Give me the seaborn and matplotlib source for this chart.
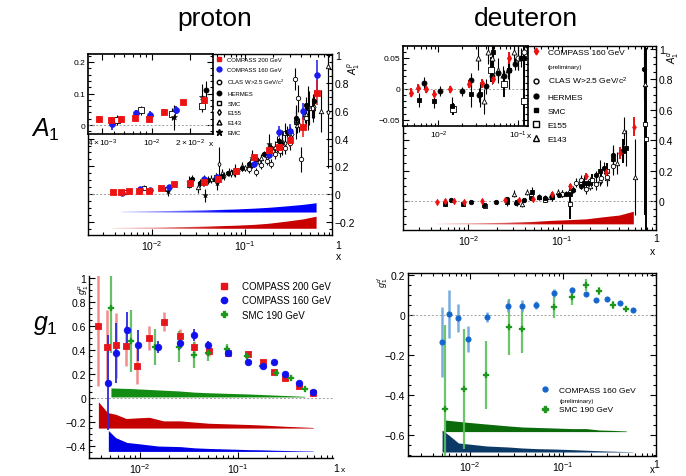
import numpy as np
import matplotlib
matplotlib.use("Agg")
import matplotlib.pyplot as plt
import seaborn as sns
from matplotlib.lines import Line2D
from matplotlib.colors import to_rgb
import matplotlib.ticker as mticker

# ---------------- data: proton A1 ----------------
c200_x = [0.0038, 0.0047, 0.0057, 0.0073, 0.0094, 0.0125, 0.0175, 0.026, 0.036, 0.051, 0.080, 0.126, 0.180, 0.234, 0.300, 0.420, 0.585]
c200_A1p = [0.018, 0.015, 0.019, 0.024, 0.019, 0.042, 0.072, 0.078, 0.085, 0.108, 0.163, 0.264, 0.319, 0.336, 0.388, 0.484, 0.731]
c200_A1p_err = [0.012, 0.012, 0.011, 0.010, 0.010, 0.008, 0.008, 0.009, 0.010, 0.012, 0.015, 0.020, 0.03, 0.04, 0.05, 0.07, 0.09]
c200_A1p_sys = [0.006, 0.007, 0.007, 0.008, 0.008, 0.009, 0.011, 0.013, 0.015, 0.018, 0.022, 0.028, 0.036, 0.045, 0.054, 0.067, 0.087]

c160_x = [0.0048, 0.0074, 0.0096, 0.0154, 0.036, 0.050, 0.080, 0.126, 0.180, 0.234, 0.300, 0.420, 0.585]
c160_A1p = [0.005, 0.037, 0.032, 0.048, 0.108, 0.124, 0.168, 0.216, 0.283, 0.450, 0.452, 0.597, 0.856]
c160_A1p_err = [0.02, 0.012, 0.012, 0.012, 0.015, 0.015, 0.02, 0.025, 0.03, 0.04, 0.05, 0.06, 0.11]
c160_A1p_sys = [0.008, 0.009, 0.010, 0.011, 0.015, 0.018, 0.022, 0.028, 0.034, 0.040, 0.046, 0.055, 0.067]

clas_p_x = [0.11, 0.13, 0.15, 0.17, 0.19, 0.21, 0.24, 0.27, 0.30, 0.34, 0.37, 0.40, 0.45, 0.52]
clas_p_A1 = [0.18, 0.16, 0.21, 0.24, 0.22, 0.29, 0.31, 0.33, 0.37, 0.83, 0.69, 0.25, 0.55, 0.62]
clas_p_err = [0.03, 0.03, 0.03, 0.03, 0.03, 0.04, 0.04, 0.04, 0.05, 0.08, 0.10, 0.09, 0.06, 0.07]

hermes_p_x = [0.027, 0.033, 0.040, 0.048, 0.056, 0.066, 0.077, 0.092, 0.11, 0.13, 0.16, 0.19, 0.23, 0.28, 0.35, 0.45, 0.55]
hermes_p_A1 = [0.11, 0.08, 0.10, 0.11, 0.13, 0.15, 0.16, 0.19, 0.22, 0.25, 0.29, 0.33, 0.38, 0.45, 0.55, 0.64, 0.67]
hermes_p_err = [0.03, 0.03, 0.03, 0.02, 0.02, 0.02, 0.02, 0.02, 0.02, 0.02, 0.02, 0.03, 0.03, 0.04, 0.05, 0.06, 0.08]

smc_p_x = [0.0053, 0.0082, 0.0144, 0.025, 0.035, 0.049, 0.077, 0.12, 0.17, 0.22, 0.27, 0.35, 0.48]
smc_p_A1 = [0.017, 0.047, 0.035, 0.062, 0.09, 0.12, 0.16, 0.24, 0.28, 0.36, 0.44, 0.52, 0.62]
smc_p_err = [0.015, 0.015, 0.02, 0.02, 0.03, 0.03, 0.03, 0.04, 0.05, 0.06, 0.07, 0.09, 0.12]

e155_p_x = [0.052, 0.06, 0.07, 0.085, 0.10, 0.12, 0.14, 0.17, 0.20, 0.23, 0.27, 0.32, 0.38, 0.45, 0.55, 0.77]
e155_p_A1 = [0.22, 0.13, 0.15, 0.17, 0.19, 0.21, 0.23, 0.27, 0.31, 0.34, 0.37, 0.43, 0.50, 0.57, 0.63, 0.59]
e155_p_err = [0.12, 0.03, 0.03, 0.02, 0.02, 0.02, 0.02, 0.02, 0.03, 0.03, 0.03, 0.04, 0.05, 0.06, 0.08, 0.40]

e143_p_x = [0.031, 0.036, 0.043, 0.049, 0.057, 0.067, 0.079, 0.093, 0.11, 0.13, 0.15, 0.18, 0.21, 0.25, 0.30, 0.36, 0.44, 0.53, 0.66, 0.77]
e143_p_A1 = [0.05, 0.10, 0.11, 0.12, 0.15, 0.16, 0.17, 0.20, 0.21, 0.24, 0.26, 0.30, 0.34, 0.38, 0.44, 0.50, 0.58, 0.62, 0.60, 0.92]
e143_p_err = [0.04, 0.04, 0.03, 0.03, 0.03, 0.03, 0.03, 0.03, 0.03, 0.03, 0.03, 0.03, 0.04, 0.04, 0.05, 0.06, 0.07, 0.10, 0.15, 0.30]

emc_p_x = [0.015, 0.025, 0.037, 0.05, 0.078, 0.12, 0.18, 0.25, 0.35, 0.47]
emc_p_A1 = [0.025, 0.09, -0.01, 0.08, 0.17, 0.26, 0.36, 0.37, 0.52, 0.62]
emc_p_err = [0.04, 0.04, 0.05, 0.05, 0.05, 0.06, 0.07, 0.09, 0.12, 0.16]

# ---------------- data: deuteron A1 ----------------
c160d_x = [0.0046, 0.0056, 0.0070, 0.0089, 0.014, 0.0245, 0.035, 0.049, 0.077, 0.122, 0.18, 0.29, 0.41, 0.58]
c160d_A1 = [-0.006, 0.001, -0.001, -0.008, -0.001, 0.008, 0.009, 0.016, 0.05, 0.097, 0.162, 0.189, 0.316, 0.49]
c160d_A1_err = [0.008, 0.007, 0.006, 0.006, 0.005, 0.006, 0.007, 0.008, 0.010, 0.015, 0.02, 0.03, 0.04, 0.06]
c160d_A1_sys = [0.005, 0.006, 0.007, 0.007, 0.008, 0.010, 0.013, 0.016, 0.023, 0.028, 0.033, 0.048, 0.058, 0.083]

hermes_d_x = [0.0066, 0.0106, 0.0195, 0.0256, 0.032, 0.039, 0.047, 0.056, 0.066, 0.077, 0.092, 0.11, 0.13, 0.16, 0.19, 0.23, 0.28, 0.35, 0.45, 0.75]
hermes_d_A1 = [0.009, -0.003, -0.004, 0.014, -0.01, 0.004, 0.02, 0.025, 0.02, 0.03, 0.04, 0.05, 0.07, 0.10, 0.12, 0.17, 0.22, 0.30, 0.33, 0.87]
hermes_d_err = [0.01, 0.008, 0.007, 0.012, 0.012, 0.012, 0.012, 0.01, 0.01, 0.01, 0.01, 0.015, 0.015, 0.02, 0.02, 0.03, 0.04, 0.05, 0.06, 0.2]

smc_d_x = [0.0057, 0.0087, 0.0148, 0.0256, 0.033, 0.048, 0.077, 0.12, 0.17, 0.25, 0.35, 0.48]
smc_d_A1 = [-0.018, -0.019, -0.027, -0.009, -0.009, 0.06, 0.03, 0.05, 0.12, 0.20, 0.28, 0.35]
smc_d_err = [0.012, 0.012, 0.013, 0.02, 0.02, 0.03, 0.03, 0.04, 0.05, 0.07, 0.09, 0.12]

e155_d_x = [0.0152, 0.046, 0.066, 0.12, 0.16, 0.21, 0.30, 0.45, 0.76, 0.78]
e155_d_A1 = [-0.033, 0.031, 0.007, -0.02, 0.11, 0.14, 0.20, 0.33, 0.51, 0.41]
e155_d_err = [0.01, 0.02, 0.02, 0.10, 0.03, 0.04, 0.05, 0.08, 0.6, 0.6]

e143_d_x = [0.031, 0.037, 0.042, 0.047, 0.056, 0.065, 0.075, 0.09, 0.10, 0.13, 0.16, 0.20, 0.25, 0.30, 0.38, 0.46, 0.60, 0.77]
e143_d_A1 = [0.05, -0.02, 0.06, 0.05, 0.03, 0.022, 0.03, 0.06, 0.05, 0.08, 0.11, 0.10, 0.14, 0.15, 0.25, 0.46, 0.16, 0.77]
e143_d_err = [0.02, 0.02, 0.02, 0.02, 0.02, 0.015, 0.015, 0.02, 0.02, 0.02, 0.03, 0.03, 0.04, 0.05, 0.07, 0.09, 0.25, 0.3]

clas_d_x = [0.10, 0.12, 0.14, 0.16, 0.18, 0.20, 0.23, 0.26, 0.30, 0.35]
clas_d_A1 = [0.05, 0.06, 0.12, 0.14, 0.08, 0.13, 0.11, 0.15, 0.16, 0.23]
clas_d_err = [0.02, 0.02, 0.03, 0.03, 0.03, 0.03, 0.04, 0.04, 0.05, 0.06]

# ---------------- data: proton g1 ----------------
c200_g1p = [0.60, 0.43, 0.44, 0.435, 0.27, 0.505, 0.64, 0.52, 0.43, 0.39, 0.38, 0.37, 0.30, 0.22, 0.17, 0.10, 0.045]
c200_g1p_err = [0.5, 0.31, 0.27, 0.17, 0.15, 0.10, 0.08, 0.06, 0.05, 0.04, 0.03, 0.025, 0.02, 0.015, 0.012, 0.01, 0.008]
c200_g1p_sys = [0.22, 0.13, 0.115, 0.08, 0.085, 0.09, 0.06, 0.06, 0.05, 0.04, 0.035, 0.03, 0.025, 0.02, 0.015, 0.01, 0.005]

c160_g1_x = [0.0048, 0.0057, 0.0074, 0.0096, 0.0154, 0.026, 0.036, 0.050, 0.080, 0.126, 0.180, 0.234, 0.300, 0.420, 0.585]
c160_g1p = [0.13, 0.38, 0.57, 0.44, 0.43, 0.46, 0.53, 0.44, 0.38, 0.30, 0.27, 0.30, 0.20, 0.125, 0.053]
c160_g1p_err = [0.40, 0.25, 0.15, 0.13, 0.05, 0.05, 0.05, 0.04, 0.03, 0.02, 0.02, 0.015, 0.012, 0.01, 0.01]
c160_g1p_sys = [0.175, 0.115, 0.075, 0.065, 0.045, 0.04, 0.03, 0.025, 0.02, 0.015, 0.013, 0.01, 0.008, 0.005, 0.003]

smc_g1_x = [0.0051, 0.0081, 0.0142, 0.025, 0.036, 0.05, 0.078, 0.125, 0.175, 0.245, 0.345, 0.48]
smc_g1p = [0.75, 0.48, 0.43, 0.43, 0.36, 0.38, 0.41, 0.35, 0.27, 0.21, 0.17, 0.075]
smc_g1p_err = [0.37, 0.26, 0.15, 0.13, 0.11, 0.07, 0.04, 0.03, 0.025, 0.02, 0.015, 0.01]
smc_g1p_sys = [0.075, 0.07, 0.06, 0.05, 0.04, 0.035, 0.03, 0.025, 0.02, 0.015, 0.01, 0.005]

# ---------------- data: deuteron g1 ----------------
c160d_g1_x = [0.0050, 0.0059, 0.0075, 0.0096, 0.0151, 0.0258, 0.0365, 0.051, 0.079, 0.124, 0.177, 0.226, 0.295, 0.41, 0.57]
c160d_g1 = [-0.137, 0.005, -0.015, -0.12, -0.008, 0.043, 0.043, 0.052, 0.112, 0.127, 0.105, 0.075, 0.08, 0.06, 0.027]
c160d_g1_err = [0.175, 0.12, 0.07, 0.065, 0.025, 0.03, 0.03, 0.02, 0.02, 0.015, 0.012, 0.01, 0.01, 0.007, 0.005]
c160d_g1_sys = [0.11, 0.085, 0.045, 0.04, 0.03, 0.025, 0.02, 0.017, 0.015, 0.012, 0.009, 0.007, 0.005, 0.003, 0.001]

smc_d_g1_x = [0.0054, 0.0086, 0.0149, 0.0263, 0.0365, 0.080, 0.124, 0.177, 0.245, 0.346, 0.48]
smc_d_g1 = [-0.47, -0.37, -0.30, -0.062, -0.07, 0.042, 0.092, 0.152, 0.122, 0.05, 0.03]
smc_d_g1_err = [0.42, 0.30, 0.17, 0.14, 0.12, 0.055, 0.04, 0.03, 0.02, 0.02, 0.01]
smc_d_g1_sys = [0.058, 0.048, 0.038, 0.028, 0.023, 0.018, 0.015, 0.015, 0.008, 0.006, 0.003]

# ---------------- styling helpers ----------------
sns.set_theme(style="ticks")
plt.rcParams['font.family'] = ['Liberation Sans', 'DejaVu Sans']
plt.rcParams['mathtext.fontset'] = 'custom'
plt.rcParams['mathtext.rm'] = 'Liberation Sans'
plt.rcParams['mathtext.it'] = 'Liberation Sans:italic'
plt.rcParams['axes.unicode_minus'] = True
for k in ['text.color', 'axes.labelcolor', 'xtick.color', 'ytick.color', 'axes.edgecolor']:
    plt.rcParams[k] = 'black'

W, H = 686, 477
fig = plt.figure(figsize=(W / 100, H / 100), dpi=100)


def ax_px(l, t, r, b, z=1):
    a = fig.add_axes([l / W, 1 - b / H, (r - l) / W, (b - t) / H])
    a.set_zorder(z)
    return a


def numfmt(v, pos=None):
    if abs(v) < 1e-9:
        return '0'
    return ('%g' % round(v, 3)).replace('-', '\u2212')


def style(ax, xlim, ylim, labelsize=7.5, right_labels=False, lw=1.0):
    ax.set_xscale('log')
    ax.set_xlim(*xlim)
    ax.set_ylim(*ylim)
    ax.set_xlabel('')
    ax.set_ylabel('')
    ax.xaxis.set_minor_locator(mticker.LogLocator(base=10, subs=np.arange(2, 10)))
    ax.xaxis.set_minor_formatter(mticker.NullFormatter())
    ax.yaxis.set_major_formatter(mticker.FuncFormatter(numfmt))
    ax.tick_params(which='both', direction='in', labelsize=labelsize, top=True, right=True,
                   pad=2, width=0.8, colors='black')
    ax.tick_params(which='major', length=4)
    ax.tick_params(which='minor', length=2)
    if right_labels:
        ax.tick_params(axis='y', labelleft=False, labelright=True)
    for s in ax.spines.values():
        s.set_linewidth(lw)
        s.set_color('black')
    ax.set_facecolor('white')


def pts(ax, x, y, e, marker, fc, ec='black', s=12, ecol=None, elw=0.8, lw=0.6, ealpha=1.0, z=3):
    ax.errorbar(x, y, yerr=e, fmt='none', ecolor=ecol or ec, elinewidth=elw, capsize=0,
                alpha=ealpha, zorder=z)
    sns.scatterplot(x=x, y=y, ax=ax, marker=marker, s=s, color=fc, edgecolor=ec,
                    linewidth=lw, zorder=z + 0.5, legend=False)


def band(ax, x, base, height, color, xlim, light=None, ramp=0.55, top=True):
    x = np.asarray(x, float)
    h = np.asarray(height, float)
    hi = base + h if top else base
    lo = base if top else base - h
    poly = ax.fill_between(x, lo, hi, color=color, lw=0, zorder=2)
    if light is None:
        return
    path = poly.get_paths()[0]
    poly.remove()
    lx0, lx1 = np.log10(xlim)
    f0 = (np.log10(x[0]) - lx0) / (lx1 - lx0)
    f1 = (np.log10(x[-1]) - lx0) / (lx1 - lx0)
    cols = np.linspace(0, 1, 600)
    t = np.clip((cols - f0) / ((f1 - f0) * ramp), 0, 1)
    a = light + (1 - light) * t
    rgb = np.array(to_rgb(color))
    img = (1 - a)[:, None] * np.ones(3) + a[:, None] * rgb
    ax.set_autoscale_on(False)
    im = ax.imshow(img[None, :, :], extent=[0, 1, 0, 1], transform=ax.transAxes,
                   aspect='auto', zorder=2, interpolation='bilinear')
    im.set_clip_path(path, ax.transData)


def zero_line(ax):
    ax.axhline(0, color='#a0a0a0', ls=(0, (2, 2)), lw=0.7, zorder=1)


def decade_ticks(ax):
    ax.set_xticks([0.01, 0.1])
    ax.set_xticklabels([r'$10^{-2}$', r'$10^{-1}$'])


RED = '#ee1111'
BLUE = '#1a1aee'


def proton_black(ax, s=10):
    pts(ax, e143_p_x, e143_p_A1, e143_p_err, '^', 'white', s=s)
    pts(ax, e155_p_x, e155_p_A1, e155_p_err, 'd', 'white', s=s * 0.7)
    pts(ax, clas_p_x, clas_p_A1, clas_p_err, 'o', 'white', s=s)
    pts(ax, smc_p_x, smc_p_A1, smc_p_err, 's', 'white', s=s)
    pts(ax, hermes_p_x, hermes_p_A1, hermes_p_err, 'o', 'black', s=s)
    pts(ax, emc_p_x, emc_p_A1, emc_p_err, '*', 'black', s=s * 1.6, lw=0.3)


def deuteron_black(ax, s=10):
    pts(ax, e143_d_x, e143_d_A1, e143_d_err, '^', 'white', s=s)
    pts(ax, clas_d_x, clas_d_A1, clas_d_err, 'o', 'white', s=s)
    pts(ax, e155_d_x, e155_d_A1, e155_d_err, 's', 'white', s=s * 1.2, elw=1.4)
    pts(ax, smc_d_x, smc_d_A1, smc_d_err, 's', 'black', s=s * 0.7)
    pts(ax, hermes_d_x, hermes_d_A1, hermes_d_err, 'o', 'black', s=s)


# ================= Panel 1 : proton A1 =================
xl1 = (0.00207, 0.856)
ax1 = ax_px(88, 55, 332, 236)
zero_line(ax1)
band(ax1, c160_x, -0.133, c160_A1p_sys, '#0000ff', xl1, light=0.12)
band(ax1, c200_x, -0.25, c200_A1p_sys, '#c80000', xl1, light=0.10)
proton_black(ax1)
pts(ax1, c160_x, c160_A1p, c160_A1p_err, 'o', BLUE, ec=BLUE, s=16, elw=1.1)
pts(ax1, c200_x, c200_A1p, c200_A1p_err, 's', RED, ec=RED, s=16, elw=1.1)
style(ax1, xl1, (-0.295, 1.01), right_labels=True)
ax1.set_yticks([-0.2, 0, 0.2, 0.4, 0.6, 0.8, 1.0])
ax1.yaxis.set_minor_locator(mticker.MultipleLocator(0.05))
decade_ticks(ax1)
ax1.text(1.0, -0.03, '1', transform=ax1.get_xaxis_transform(), ha='center', va='top',
         fontsize=7.5, clip_on=False)
ax1.text(1.0, -0.09, 'x', transform=ax1.get_xaxis_transform(), ha='center', va='top',
         fontsize=7.5, clip_on=False)

leg1_handles = [
    Line2D([], [], ls='none', marker='s', color=RED, ms=3.5),
    Line2D([], [], ls='none', marker='o', color=BLUE, ms=3.5),
    Line2D([], [], ls='none', marker='o', mfc='white', mec='black', ms=3.2),
    Line2D([], [], ls='none', marker='o', color='black', ms=3.2),
    Line2D([], [], ls='none', marker='s', mfc='white', mec='black', ms=3.5),
    Line2D([], [], ls='none', marker='d', mfc='white', mec='black', ms=3.0),
    Line2D([], [], ls='none', marker='^', mfc='white', mec='black', ms=3.5),
    Line2D([], [], ls='none', marker='*', color='black', ms=4.5),
]
leg1_labels = ['COMPASS 200 GeV', 'COMPASS 160 GeV', r'CLAS W>2.5 GeV/c$^2$', 'HERMES',
               'SMC', 'E155', 'E143', 'EMC']
ax1.legend(leg1_handles, leg1_labels, loc='upper left', bbox_to_anchor=(216 / W, 1 - 58 / H),
           bbox_transform=fig.transFigure, frameon=False, fontsize=4.3, handlelength=1.0,
           handletextpad=0.9, labelspacing=0.78, borderaxespad=0, borderpad=0)
fig.text(354 / W, 1 - 68 / H, r'$A_1^p$', rotation=90, fontsize=7, ha='center', va='center')

# inset proton
xi1 = (0.0031, 0.0305)
ai1 = ax_px(88, 55, 213, 135, z=2)
zero_line(ai1)
proton_black(ai1, s=13)
pts(ai1, c160_x, c160_A1p, c160_A1p_err, 'o', BLUE, ec=BLUE, s=18, elw=1.2)
pts(ai1, c200_x, c200_A1p, c200_A1p_err, 's', RED, ec=RED, s=18, elw=1.2)
style(ai1, xi1, (-0.028, 0.225), labelsize=6, lw=1.2)
ai1.set_yticks([0, 0.1, 0.2])
ai1.yaxis.set_minor_locator(mticker.MultipleLocator(0.02))
ai1.set_xticks([0.004, 0.01, 0.02])
ai1.set_xticklabels([r'$4\times10^{-3}$', r'$10^{-2}$', r'$2\times10^{-2}$'])
ai1.text(0.985, -0.07, 'x', transform=ai1.transAxes, ha='center', va='top', fontsize=6)

# ================= Panel 2 : deuteron A1 =================
xl2 = (0.00201, 1.0)
ax2 = ax_px(403, 47, 656, 231)
zero_line(ax2)
band(ax2, c160d_x, -0.153, c160d_A1_sys, '#c80000', xl2, light=0.10)
deuteron_black(ax2)
pts(ax2, c160d_x, c160d_A1, c160d_A1_err, 'd', RED, ec=RED, s=10, elw=1.4)
style(ax2, xl2, (-0.19, 1.02), right_labels=True)
ax2.set_yticks([0, 0.2, 0.4, 0.6, 0.8, 1.0])
ax2.yaxis.set_minor_locator(mticker.MultipleLocator(0.05))
ax2.set_xticks([0.01, 0.1, 1.0])
ax2.set_xticklabels([r'$10^{-2}$', r'$10^{-1}$', '1'])
ax2.text(0.985, -0.085, 'x', transform=ax2.transAxes, ha='center', va='top', fontsize=7.5)

leg2_handles = [
    Line2D([], [], ls='none', marker='d', color=RED, ms=3.5),
    Line2D([], [], ls='none', marker=None),
    Line2D([], [], ls='none', marker='o', mfc='white', mec='black', ms=3.5),
    Line2D([], [], ls='none', marker='o', color='black', ms=3.5),
    Line2D([], [], ls='none', marker='s', color='black', ms=3.0),
    Line2D([], [], ls='none', marker='s', mfc='white', mec='black', ms=4.5),
    Line2D([], [], ls='none', marker='^', mfc='white', mec='black', ms=4.5),
]
leg2_labels = ['COMPASS 160 GeV', '(preliminary)', r'CLAS W>2.5 GeV/c$^2$', 'HERMES', 'SMC',
               'E155', 'E143']
lg2 = ax2.legend(leg2_handles, leg2_labels, loc='upper left', bbox_to_anchor=(532 / W, 1 - 49 / H),
                 bbox_transform=fig.transFigure, frameon=False, fontsize=6, handlelength=1.0,
                 handletextpad=0.9, labelspacing=0.75, borderaxespad=0, borderpad=0)
lg2.get_texts()[1].set_fontsize(4.5)
fig.text(673 / W, 1 - 57 / H, r'$A_1^d$', rotation=90, fontsize=7, ha='center', va='center')

# inset deuteron
xi2 = (0.0036, 0.133)
ai2 = ax_px(403, 47, 528, 127, z=2)
zero_line(ai2)
deuteron_black(ai2, s=13)
pts(ai2, c160d_x, c160d_A1, c160d_A1_err, 'd', RED, ec=RED, s=13, elw=1.4)
style(ai2, xi2, (-0.06, 0.069), labelsize=6, lw=1.2)
ai2.set_yticks([-0.05, 0, 0.05])
ai2.yaxis.set_minor_locator(mticker.MultipleLocator(0.01))
decade_ticks(ai2)
ai2.text(1.01, -0.08, 'x', transform=ai2.transAxes, ha='center', va='top', fontsize=6)

# ================= Panel 3 : proton g1 =================
xl3 = (0.00305, 0.93)
ax3 = ax_px(89, 277, 333, 459)
zero_line(ax3)
band(ax3, smc_g1_x, 0.01, smc_g1p_sys, '#128c12', xl3)
band(ax3, c200_x, -0.25, c200_g1p_sys, '#c40000', xl3)
band(ax3, c160_g1_x, -0.445, c160_g1p_sys, '#0000e6', xl3)
pts(ax3, c200_x, c200_g1p, c200_g1p_err, 's', '#e8141c', ec='#e8141c', ecol='#f07070',
    s=20, elw=1.8, ealpha=0.8)
pts(ax3, smc_g1_x, smc_g1p, smc_g1p_err, 'P', '#1a9a1a', ec='#1a9a1a', ecol='#4fb34f',
    s=22, elw=1.6, ealpha=0.85, lw=0.2)
pts(ax3, c160_g1_x, c160_g1p, c160_g1p_err, 'o', '#1010ee', ec='#1010ee', ecol='#2a2ae0',
    s=22, elw=1.3)
style(ax3, xl3, (-0.5, 1.02))
ax3.spines['top'].set_visible(False)
ax3.spines['right'].set_visible(False)
ax3.tick_params(which='both', top=False, right=False)
ax3.set_yticks([-0.4, -0.2, 0, 0.2, 0.4, 0.6, 0.8, 1.0])
ax3.yaxis.set_minor_locator(mticker.MultipleLocator(0.05))
decade_ticks(ax3)
ax3.text(1.0, -0.025, '1', transform=ax3.get_xaxis_transform(), ha='center', va='top',
         fontsize=7.5, clip_on=False)
fig.text(343 / W, 1 - 471 / H, 'x', ha='center', va='center', fontsize=6)
leg3_handles = [
    Line2D([], [], ls='none', marker='s', color='#e8141c', ms=4.5),
    Line2D([], [], ls='none', marker='o', color='#1010ee', ms=4.5),
    Line2D([], [], ls='none', marker='P', color='#1a9a1a', ms=5),
]
ax3.legend(leg3_handles, ['COMPASS 200 GeV', 'COMPASS 160 GeV', 'SMC 190 GeV'], loc='upper left',
           bbox_to_anchor=(219 / W, 1 - 282 / H), bbox_transform=fig.transFigure, frameon=False,
           fontsize=7, handlelength=1.0, handletextpad=1.4, labelspacing=0.45,
           borderaxespad=0, borderpad=0)
fig.text(84 / W, 1 - 290 / H, r'$g_1^p$', rotation=90, fontsize=6.5, ha='center', va='center')

# ================= Panel 4 : deuteron g1 =================
xl4 = (0.00215, 1.0)
ax4 = ax_px(408, 274, 656, 457)
zero_line(ax4)
band(ax4, smc_d_g1_x, -0.583, smc_d_g1_sys, '#0b6b0b', xl4)
band(ax4, c160d_g1_x, -0.685, c160d_g1_sys, '#0c3a66', xl4)
pts(ax4, smc_d_g1_x, smc_d_g1, smc_d_g1_err, 'P', '#1e961e', ec='#1e961e', ecol='#5cc05c',
    s=14, elw=1.6, ealpha=0.9, lw=0.2)
pts(ax4, c160d_g1_x, c160d_g1, c160d_g1_err, 'o', '#1466cc', ec='#1466cc', ecol='#6aa4dc',
    s=14, elw=1.8, ealpha=0.9)
style(ax4, xl4, (-0.705, 0.21))
ax4.set_yticks([-0.6, -0.4, -0.2, 0, 0.2])
ax4.yaxis.set_minor_locator(mticker.MultipleLocator(0.05))
ax4.set_xticks([0.01, 0.1, 1.0])
ax4.set_xticklabels([r'$10^{-2}$', r'$10^{-1}$', '1'])
fig.text(652 / W, 1 - 470 / H, 'x', ha='center', va='center', fontsize=7)
leg4_handles = [
    Line2D([], [], ls='none', marker='o', color='#1466cc', ms=3.5),
    Line2D([], [], ls='none', marker=None),
    Line2D([], [], ls='none', marker='P', color='#1e961e', ms=4),
]
lg4 = ax4.legend(leg4_handles, ['COMPASS 160 GeV', '(preliminary)', 'SMC 190 GeV'], loc='upper left',
                 bbox_to_anchor=(541 / W, 1 - 387 / H), bbox_transform=fig.transFigure,
                 frameon=False, fontsize=6, handlelength=1.0, handletextpad=1.2,
                 labelspacing=0.3, borderaxespad=0, borderpad=0)
lg4.get_texts()[1].set_fontsize(4.5)
fig.text(383 / W, 1 - 282 / H, r'$g_1^d$', rotation=90, fontsize=6.5, ha='center', va='center')

# ================= labels =================
fig.text(215 / W, 1 - 19 / H, 'proton', fontsize=19, ha='center', va='center')
fig.text(526 / W, 1 - 19 / H, 'deuteron', fontsize=19, ha='center', va='center')
fig.text(45 / W, 1 - 130 / H, r'$A_1$', fontsize=18, ha='center', va='center')
fig.text(45 / W, 1 - 325 / H, r'$g_1$', fontsize=18, ha='center', va='center')

fig.savefig('out.png', dpi=100)
